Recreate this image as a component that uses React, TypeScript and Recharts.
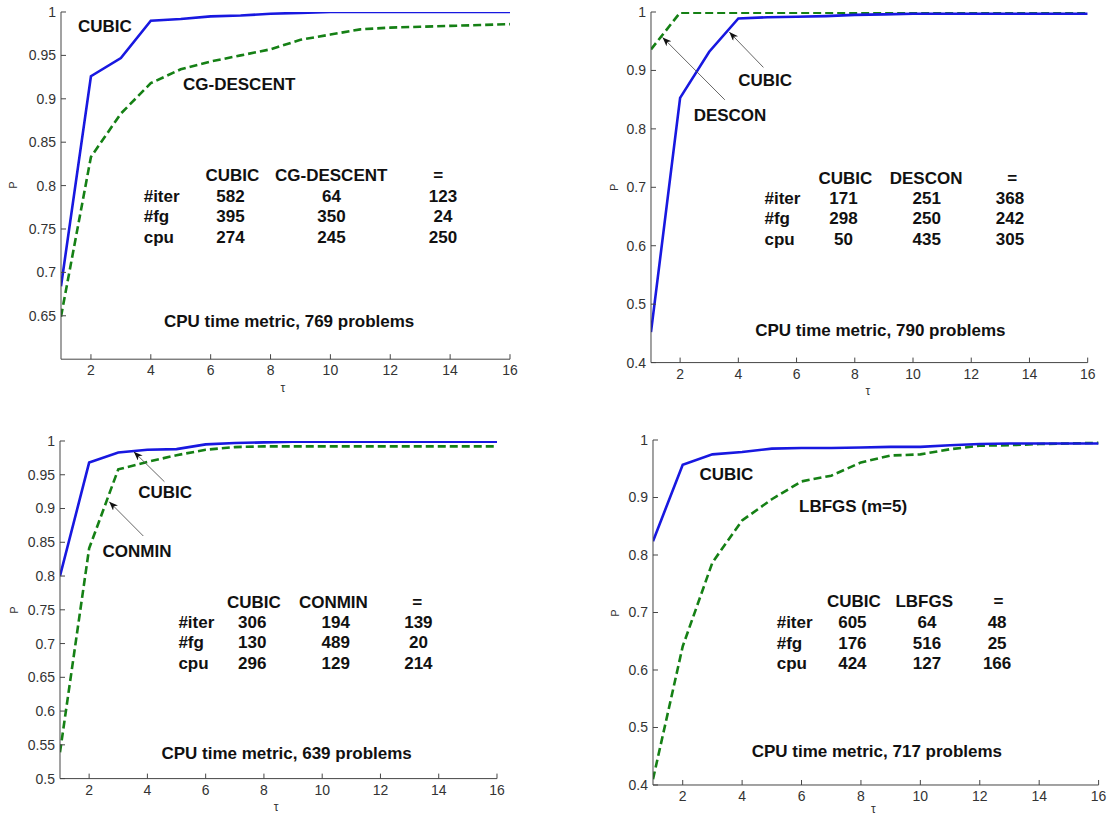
import React from "react";
import { LineChart, Line, XAxis, YAxis } from "recharts";

const FONT = '"Liberation Sans", Arial, Helvetica, sans-serif';

// ---- data ----
const tau = [1, 2, 3, 4, 5, 6, 7, 8, 9, 10, 11, 12, 13, 14, 15, 16];
const xTicks = [2, 4, 6, 8, 10, 12, 14, 16];

// Panel 1: CUBIC vs CG-DESCENT
const cubic1 = [0.684, 0.926, 0.947, 0.99, 0.992, 0.995, 0.996, 0.998, 0.999, 1, 1, 1, 1, 1, 1, 1];
const cgDescent1 = [0.649, 0.833, 0.883, 0.918, 0.934, 0.943, 0.95, 0.957, 0.968, 0.974, 0.98, 0.982, 0.983, 0.984, 0.985, 0.986];
const yTicks1 = [0.65, 0.7, 0.75, 0.8, 0.85, 0.9, 0.95, 1];

// Panel 2: CUBIC vs DESCON
const cubic2 = [0.452, 0.853, 0.932, 0.989, 0.991, 0.992, 0.993, 0.995, 0.996, 0.997, 0.997, 0.997, 0.997, 0.997, 0.997, 0.997];
const descon2 = [0.936, 0.999, 0.999, 0.999, 0.999, 0.999, 0.999, 0.999, 0.999, 0.999, 0.999, 0.998, 0.998, 0.998, 0.998, 0.998];
const yTicks2 = [0.4, 0.5, 0.6, 0.7, 0.8, 0.9, 1];

// Panel 3: CUBIC vs CONMIN
const cubic3 = [0.8, 0.968, 0.983, 0.987, 0.988, 0.995, 0.997, 0.998, 0.999, 0.999, 0.999, 0.999, 0.999, 0.999, 0.999, 0.999];
const conmin3 = [0.539, 0.841, 0.958, 0.969, 0.979, 0.987, 0.991, 0.992, 0.992, 0.992, 0.992, 0.992, 0.992, 0.992, 0.992, 0.992];
const yTicks3 = [0.5, 0.55, 0.6, 0.65, 0.7, 0.75, 0.8, 0.85, 0.9, 0.95, 1];

// Panel 4: CUBIC vs LBFGS
const cubic4 = [0.824, 0.957, 0.975, 0.979, 0.985, 0.986, 0.986, 0.987, 0.988, 0.988, 0.991, 0.993, 0.994, 0.994, 0.994, 0.994];
const lbfgs4 = [0.41, 0.641, 0.787, 0.86, 0.897, 0.928, 0.938, 0.961, 0.973, 0.975, 0.984, 0.99, 0.991, 0.993, 0.994, 0.995];
const yTicks4 = [0.4, 0.5, 0.6, 0.7, 0.8, 0.9, 1];

// Tables
const rowLabels = ["#iter", "#fg", "cpu"];
const head1 = ["CUBIC", "CG-DESCENT", "="];
const iter1 = [582, 64, 123];
const fg1 = [395, 350, 24];
const cpu1 = [274, 245, 250];

const head2 = ["CUBIC", "DESCON", "="];
const iter2 = [171, 251, 368];
const fg2 = [298, 250, 242];
const cpu2 = [50, 435, 305];

const head3 = ["CUBIC", "CONMIN", "="];
const iter3 = [306, 194, 139];
const fg3 = [130, 489, 20];
const cpu3 = [296, 129, 214];

const head4 = ["CUBIC", "LBFGS", "="];
const iter4 = [605, 64, 48];
const fg4 = [176, 516, 25];
const cpu4 = [424, 127, 166];

const titles = [
  "CPU time metric, 769 problems",
  "CPU time metric, 790 problems",
  "CPU time metric, 639 problems",
  "CPU time metric, 717 problems",
];

const mk = (a: number[], b: number[]) => tau.map((x, i) => ({ x, a: a[i], b: b[i] }));

// ---- layout (styles) ----
const BLUE = "#1818e0";
const GREEN = "#158015";
const AXIS = "#454545";

type Geo = { L: number; T: number; R: number; B: number };

function Panel({ geo, yDomain, yTicks, data }: { geo: Geo; yDomain: number[]; yTicks: number[]; data: any[] }) {
  const yw = 45, mt = 10, mr = 12, xh = 30;
  const w = geo.R - geo.L;
  const h = geo.B - geo.T;
  const tickStyle = { fill: "#333", fontSize: 14, fontFamily: FONT };
  return (
    <div style={{ position: "absolute", left: geo.L - yw, top: geo.T - mt }}>
      <LineChart width={yw + w + mr} height={mt + h + xh} data={data} margin={{ top: mt, right: mr, left: 0, bottom: 0 }}>
        <XAxis xAxisId="b" dataKey="x" type="number" domain={[1, 16]} ticks={xTicks} interval={0} height={xh}
          tickSize={-5} tickMargin={11} stroke={AXIS} tick={tickStyle} allowDataOverflow />
        <XAxis xAxisId="t" orientation="top" dataKey="x" type="number" domain={[1, 16]} ticks={xTicks} interval={0} height={0}
          tickSize={-5} tick={false} stroke={AXIS} allowDataOverflow />
        <YAxis yAxisId="l" type="number" domain={yDomain} ticks={yTicks} interval={0} width={yw}
          tickSize={-5} tickMargin={10} stroke={AXIS} tick={tickStyle} allowDataOverflow
          tickFormatter={(v: number) => String(+v.toFixed(2))} />
        <YAxis yAxisId="r" orientation="right" type="number" domain={yDomain} ticks={yTicks} interval={0} width={0}
          tickSize={-5} tick={false} stroke={AXIS} allowDataOverflow />
        <Line xAxisId="b" yAxisId="l" dataKey="b" stroke={GREEN} strokeWidth={2.6} strokeDasharray="8 4" dot={false}
          isAnimationActive={false} type="linear" />
        <Line xAxisId="b" yAxisId="l" dataKey="a" stroke={BLUE} strokeWidth={2.6} dot={false}
          isAnimationActive={false} type="linear" />
      </LineChart>
    </div>
  );
}

type TableCfg = {
  head: string[];
  rows: number[][];
  headY: number;
  rowY: number[];
  labelX: number;
  headX: number[];
  valX: number[];
};

function Table({ t }: { t: TableCfg }) {
  const st: any = { fontFamily: FONT, fontWeight: "bold", fontSize: 17, fill: "#111", dominantBaseline: "central" };
  return (
    <g>
      {t.head.map((h, i) => (
        <text key={"h" + i} x={t.headX[i]} y={t.headY} textAnchor="middle" style={st}>{h}</text>
      ))}
      {rowLabels.map((r, j) => (
        <text key={"r" + j} x={t.labelX} y={t.rowY[j]} textAnchor="start" style={st}>{r}</text>
      ))}
      {t.rows.map((row, j) =>
        row.map((v, i) => (
          <text key={"v" + j + "_" + i} x={t.valX[i]} y={t.rowY[j]} textAnchor="middle" style={st}>{v}</text>
        ))
      )}
    </g>
  );
}

const geo1: Geo = { L: 61, T: 11.5, R: 510, B: 358.7 };
const geo2: Geo = { L: 651, T: 11.7, R: 1087.7, B: 362.3 };
const geo3: Geo = { L: 59.7, T: 440.7, R: 496.7, B: 778.3 };
const geo4: Geo = { L: 652.7, T: 440, R: 1098.3, B: 785 };

const tables: TableCfg[] = [
  { head: head1, rows: [iter1, fg1, cpu1], headY: 175, rowY: [196, 216.7, 237.3], labelX: 143.7, headX: [232.3, 331.2, 438.3], valX: [230.5, 331.5, 443] },
  { head: head2, rows: [iter2, fg2, cpu2], headY: 178.8, rowY: [198.8, 218.9, 239], labelX: 764.5, headX: [845.3, 926.1, 1012.1], valX: [843.5, 926.8, 1010] },
  { head: head3, rows: [iter3, fg3, cpu3], headY: 602, rowY: [622.3, 642.7, 663], labelX: 178.4, headX: [253.9, 333.4, 417.3], valX: [252.2, 335.8, 418.4] },
  { head: head4, rows: [iter4, fg4, cpu4], headY: 601.7, rowY: [622.3, 643.3, 663.9], labelX: 776.7, headX: [853.8, 924.2, 998.4], valX: [852.4, 927, 997.1] },
];

const titlePos = [[289.1, 321.7], [880.4, 330.6], [286.6, 753.3], [876.9, 751.1]];
const pPos = [[13.4, 185], [614.1, 187.2], [14, 610], [614.9, 613]];
const tauPos = [[282.9, 387.7], [867.8, 390.7], [276.1, 806.7], [873.4, 808.5]];

const labels: { text: string; x: number; y: number }[] = [
  { text: "CUBIC", x: 104.8, y: 26.7 },
  { text: "CG-DESCENT", x: 239.2, y: 84 },
  { text: "CUBIC", x: 765.2, y: 80.8 },
  { text: "DESCON", x: 730, y: 115.5 },
  { text: "CUBIC", x: 165.1, y: 492.7 },
  { text: "CONMIN", x: 137, y: 551 },
  { text: "CUBIC", x: 726.3, y: 474.9 },
  { text: "LBFGS (m=5)", x: 853.1, y: 506.5 },
];

const arrows = [
  [763.4, 67.4, 729.3, 32.1],
  [724.8, 99.8, 662.6, 37.4],
  [164.4, 481.7, 133.8, 451.7],
  [143.3, 536, 109.2, 501.7],
];

export default function App() {
  const bold: any = { fontFamily: FONT, fontWeight: "bold", fontSize: 17, fill: "#111", dominantBaseline: "central" };
  return (
    <div style={{ position: "absolute", left: 0, top: 0, width: 1110, height: 816, background: "#fff", overflow: "hidden" }}>
      <Panel geo={geo1} yDomain={[0.6, 1]} yTicks={yTicks1} data={mk(cubic1, cgDescent1)} />
      <Panel geo={geo2} yDomain={[0.4, 1]} yTicks={yTicks2} data={mk(cubic2, descon2)} />
      <Panel geo={geo3} yDomain={[0.5, 1]} yTicks={yTicks3} data={mk(cubic3, conmin3)} />
      <Panel geo={geo4} yDomain={[0.4, 1]} yTicks={yTicks4} data={mk(cubic4, lbfgs4)} />
      <svg width={1110} height={816} style={{ position: "absolute", left: 0, top: 0, pointerEvents: "none" }}>
        <defs>
          <marker id="arrowHead" markerWidth="10" markerHeight="8" refX="9" refY="3.5" orient="auto" markerUnits="userSpaceOnUse">
            <path d="M0,0 L9,3.5 L0,7 L2.5,3.5 z" fill="#111" />
          </marker>
        </defs>
        {tables.map((t, i) => <Table key={i} t={t} />)}
        {titles.map((s, i) => (
          <text key={"t" + i} x={titlePos[i][0]} y={titlePos[i][1]} textAnchor="middle" style={bold}>{s}</text>
        ))}
        {labels.map((l, i) => (
          <text key={"l" + i} x={l.x} y={l.y} textAnchor="middle" style={bold}>{l.text}</text>
        ))}
        {arrows.map((a, i) => (
          <line key={"a" + i} x1={a[0]} y1={a[1]} x2={a[2]} y2={a[3]} stroke="#555" strokeWidth={0.9} markerEnd="url(#arrowHead)" />
        ))}
        {pPos.map((p, i) => (
          <text key={"p" + i} x={p[0]} y={p[1]} textAnchor="middle" transform={`rotate(-90 ${p[0]} ${p[1]})`}
            style={{ fontFamily: FONT, fontSize: 11, fill: "#333", dominantBaseline: "central" } as any}>P</text>
        ))}
        {tauPos.map((p, i) => (
          <text key={"u" + i} x={p[0]} y={p[1]} textAnchor="middle"
            style={{ fontFamily: FONT, fontSize: 12, fill: "#333", dominantBaseline: "central" } as any}>τ</text>
        ))}
      </svg>
    </div>
  );
}
